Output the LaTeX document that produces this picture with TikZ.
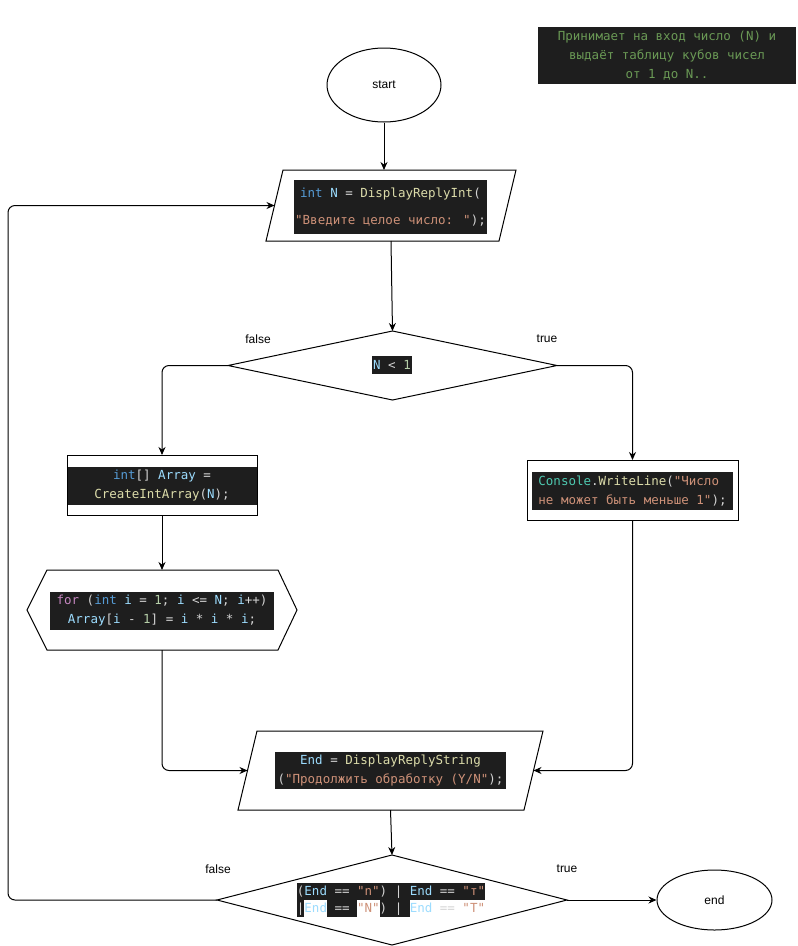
\documentclass[tikz,border=0pt]{standalone}
\usepackage{fontspec}
\setmainfont{Liberation Sans}
\newfontfamily\codefont{DejaVu Sans Mono}
\usetikzlibrary{shapes.geometric,arrows.meta}
\definecolor{cbg}{HTML}{1E1E1E}
\definecolor{ctx}{HTML}{D4D4D4}
\definecolor{ckw}{HTML}{569CD6}
\definecolor{cvr}{HTML}{9CDCFE}
\definecolor{cfn}{HTML}{DCDCAA}
\definecolor{cst}{HTML}{CE9178}
\definecolor{cnm}{HTML}{B5CEA8}
\definecolor{ccl}{HTML}{4EC9B0}
\definecolor{cct}{HTML}{C586C0}
\definecolor{ccm}{HTML}{6A9955}
\newcommand\cKw[1]{\textcolor{ckw}{#1}}
\newcommand\cVr[1]{\textcolor{cvr}{#1}}
\newcommand\cFn[1]{\textcolor{cfn}{#1}}
\newcommand\cSt[1]{\textcolor{cst}{#1}}
\newcommand\cNm[1]{\textcolor{cnm}{#1}}
\newcommand\cCl[1]{\textcolor{ccl}{#1}}
\newcommand\cCt[1]{\textcolor{cct}{#1}}
\newcommand\cbx[2]{{\setlength\fboxsep{0pt}\colorbox{#1}{\rule[-4.5pt]{0pt}{17pt}#2}}}
\tikzset{
  base/.style={draw=black, line width=1pt},
  conn/.style={line width=1pt, -{Stealth[length=8pt,width=7pt]}, rounded corners=7pt},
  hold/.style={inner sep=0pt, outer sep=0pt},
  codebox/.style={fill=cbg, text=ctx, inner sep=0pt, font=\codefont\fontsize{12.5}{19}\selectfont},
  lbl/.style={font=\fontsize{12}{14}\selectfont, inner sep=0pt},
}
\begin{document}
\begin{tikzpicture}[x=1pt,y=-1pt]
\useasboundingbox[fill=white] (0,0) rectangle (798,946);

% comment
\node[codebox, minimum width=258pt, minimum height=57pt, text=ccm, align=center] (note) at (667,55.5)
  {Принимает на вход число (N) и\\выдаёт таблицу кубов чисел\hspace*{0.6em}\\от 1 до N..};

% start
\node[ellipse, base, minimum width=114pt, minimum height=74pt, lbl] (start) at (384,85) {start};

% input 1
\node[hold, minimum width=233pt, minimum height=71pt] (p1) at (391,205.5) {};
\draw[base] ([xshift=8.5pt]p1.north west) -- ([xshift=8.5pt]p1.north east) -- ([xshift=-8.5pt]p1.south east) -- ([xshift=-8.5pt]p1.south west) -- cycle;
\node[codebox, minimum width=193pt, minimum height=54pt, align=center, font=\codefont\fontsize{12.5}{27}\selectfont] (t1) at (390.5,207)
  {\cKw{int} \cVr{N} = \cFn{DisplayReplyInt}(\\\cSt{"Введите целое число: "});};

% decision 1
\node[diamond, base, minimum width=329pt, minimum height=69pt, hold] (d1) at (392.5,365.5) {};
\node[codebox, inner xsep=1pt, minimum height=18pt] (t2) at (392,365) {\cVr{N} < \cNm{1}};
\node[lbl] (f1) at (258,339) {false};
\node[lbl] (tr1) at (547,339) {true};

% left box
\node[base, fill=white, minimum width=190pt, minimum height=60pt, hold] (lbox) at (162,485) {};
\node[codebox, minimum width=189pt, minimum height=38pt, align=center] (t3) at (162,486)
  {\cKw{int}[] \cVr{Array} =\\\cFn{CreateIntArray}(\cVr{N});};

% hexagon
\node[hold, minimum width=270pt, minimum height=80pt] (hx) at (162,610) {};
\draw[base] (hx.west) -- ([xshift=20pt]hx.north west) -- ([xshift=-19pt]hx.north east) -- (hx.east) -- ([xshift=-19pt]hx.south east) -- ([xshift=20pt]hx.south west) -- cycle;
\node[codebox, minimum width=224pt, minimum height=38pt, align=center] (t4) at (162,611)
  {\cCt{for} (\cKw{int} \cVr{i} = \cNm{1}; \cVr{i} <= \cVr{N}; \cVr{i}++)\\\cVr{Array}[\cVr{i} - \cNm{1}] = \cVr{i} * \cVr{i} * \cVr{i};};

% right box
\node[base, fill=white, minimum width=211pt, minimum height=60pt, hold] (rbox) at (632.5,490) {};
\node[codebox, minimum width=201pt, minimum height=38pt, align=left] (t5) at (632.5,491)
  {\cCl{Console}.\cFn{WriteLine}(\cSt{"Число}\\\cSt{не может быть меньше 1"});};

% input 2
\node[hold, minimum width=286pt, minimum height=79pt] (p2) at (390.5,770.5) {};
\draw[base] ([xshift=9.5pt]p2.north west) -- ([xshift=9.5pt]p2.north east) -- ([xshift=-9.5pt]p2.south east) -- ([xshift=-9.5pt]p2.south west) -- cycle;
\node[codebox, minimum width=231pt, minimum height=37pt, align=center] (t6) at (390.5,770.5)
  {\cVr{End} = \cFn{DisplayReplyString}\\(\cSt{"Продолжить обработку (Y/N"});};

% decision 2
\node[diamond, base, minimum width=350pt, minimum height=90pt, hold] (d2) at (392,900) {};
\node[hold, align=center, text=ctx, font=\codefont\fontsize{12.5}{17}\selectfont] (t7) at (391,899.5)
  {\cbx{cbg}{(\cVr{End} == \cSt{"n"}) | \cVr{End} == \cSt{"т"}}\\
   \cbx{cbg}{|}\cbx{white}{\cVr{End}}\cbx{cbg}{ == }\cbx{white}{\cSt{"N"}}\cbx{cbg}{) | }\cbx{white}{\cVr{End} == \cSt{"Т"}}};
\node[lbl] (f2) at (218,869) {false};
\node[lbl] (tr2) at (567,869) {true};

% end
\node[ellipse, base, minimum width=115pt, minimum height=60pt, lbl] (stop) at (714.5,900) {end};

% connectors
\draw[conn] (start.south) -- (start.south |- p1.north);
\draw[conn] (p1.south) -- (d1.north);
\draw[conn] (d1.west) -| (lbox.north);
\draw[conn] (d1.east) -| (rbox.north);
\draw[conn] (lbox.south) -- (hx.north);
\draw[conn] (hx.south) |- (p2.west);
\draw[conn] (rbox.south) |- (p2.east);
\draw[conn] (p2.south) -- (d2.north);
\draw[conn] (d2.east) -- (stop.west);
\coordinate (loopx) at (8,900);
\draw[conn] (d2.west) -- (d2.west -| loopx) -- (p1.west -| loopx) -- (p1.west);
\end{tikzpicture}
\end{document}
